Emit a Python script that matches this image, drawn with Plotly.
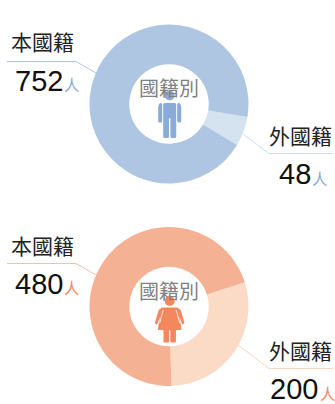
import plotly.graph_objects as go

W, H = 335, 404
categories = ["外國籍", "本國籍"]
male_values = [48, 752]
female_values = [200, 480]
center_title = "國籍別"
unit = "人"

BLUE = ["#d5e2f0", "#afc6e2"]
BLUE_ICON = "#8aabd6"
ORANGE = ["#fbdac6", "#f5b193"]
ORANGE_ICON = "#f4875e"
CJK = "Noto Sans CJK TC, Noto Sans CJK JP, sans-serif"
NUM = "Liberation Sans, Arial, sans-serif"

def X(p): return p / W
def Y(p): return 1 - p / H

def P(pt): return f"{X(pt[0]):.5f},{Y(pt[1]):.5f}"

def path(pts):
    return "M " + " L ".join(P(p) for p in pts)

def rounded(pts, r=1.2):
    """Closed polygon with softened corners."""
    n = len(pts)
    out = []
    for i in range(n):
        a, b, c = pts[i - 1], pts[i], pts[(i + 1) % n]
        def toward(p, q):
            d = ((q[0] - p[0]) ** 2 + (q[1] - p[1]) ** 2) ** 0.5
            t = min(r, d / 2) / d if d else 0
            return (p[0] + (q[0] - p[0]) * t, p[1] + (q[1] - p[1]) * t)
        s, e = toward(b, a), toward(b, c)
        out.append(("M " if i == 0 else "L ") + P(s) + " Q " + P(b) + " " + P(e))
    return " ".join(out) + " Z"

def pie_trace(vals, cols, cx, cy, r, rot):
    return go.Pie(
        labels=categories, values=vals, hole=0.5, sort=False, direction="clockwise",
        rotation=rot, textinfo="none", showlegend=False,
        marker=dict(colors=cols, line=dict(width=0)),
        domain=dict(x=[X(cx - r), X(cx + r)], y=[Y(cy + r), Y(cy - r)]),
    )

fig = go.Figure()
fig.add_trace(pie_trace(male_values, BLUE, 169, 104, 79.5, 99.5))
fig.add_trace(pie_trace(female_values, ORANGE, 169, 306.5, 79.5, 72.3))

shapes = []
def line(pts, color, width=1):
    shapes.append(dict(type="path", xref="paper", yref="paper", path=path(pts),
                       line=dict(color=color, width=width), fillcolor="rgba(0,0,0,0)"))

line([(7, 61.5), (76, 61.5), (96, 73)], "#afc6e2")
line([(243, 134), (269, 153.5), (333, 153.5)], "#cbdcee")
line([(7, 263.5), (76, 263.5), (96, 275)], "#f8bfa4")
line([(238, 345), (269, 368.5), (333, 368.5)], "#fbd5bf")

def circle(cx, cy, r, color):
    shapes.append(dict(type="circle", xref="paper", yref="paper",
                       x0=X(cx - r), x1=X(cx + r), y0=Y(cy + r), y1=Y(cy - r),
                       fillcolor=color, line=dict(width=0)))

def poly(pts, color, r=1.2):
    shapes.append(dict(type="path", xref="paper", yref="paper", path=rounded(pts, r),
                       fillcolor=color, line=dict(width=0)))

# male icon: head, torso + legs, two separate arms
cx = 169.7
circle(cx, 95.5, 5, BLUE_ICON)
poly([(cx - 6.5, 103), (cx + 6.5, 103), (cx + 6.5, 138), (cx + 0.7, 138), (cx + 0.7, 118),
      (cx - 0.7, 118), (cx - 0.7, 138), (cx - 6.5, 138)], BLUE_ICON, 1.5)
poly([(cx - 7.5, 103), (cx - 7.5, 122.5), (cx - 11.5, 122.5), (cx - 11.5, 106), (cx - 10, 103)],
     BLUE_ICON, 1.5)
poly([(cx + 7.5, 103), (cx + 7.5, 122.5), (cx + 11.5, 122.5), (cx + 11.5, 106), (cx + 10, 103)],
     BLUE_ICON, 1.5)

# female icon
circle(cx, 301, 5, ORANGE_ICON)
poly([(cx - 8, 307.5), (cx + 8, 307.5), (cx + 11, 310), (cx + 15, 323.5), (cx + 12.5, 324.5),
      (cx + 9.5, 316), (cx + 12, 330), (cx + 6.2, 330), (cx + 6.2, 342.5), (cx + 0.6, 342.5),
      (cx + 0.6, 330), (cx - 0.6, 330), (cx - 0.6, 342.5), (cx - 6.2, 342.5), (cx - 6.2, 330),
      (cx - 12, 330), (cx - 9.5, 316), (cx - 12.5, 324.5), (cx - 15, 323.5), (cx - 11, 310)],
     ORANGE_ICON, 1)
line([(cx - 6.5, 310), (cx - 10, 323)], "white", 0.8)
line([(cx + 6.5, 310), (cx + 10, 323)], "white", 0.8)

anns = []
def text(s, x, y, size, color, font, anchor="left"):
    anns.append(dict(text=s, x=X(x), y=Y(y), xref="paper", yref="paper", xanchor=anchor,
                     yanchor="middle", showarrow=False, align=anchor,
                     font=dict(size=size, color=color, family=font),
                     borderpad=0, borderwidth=0))

text(categories[1], 42.5, 41.5, 21, "#222222", CJK, "center")
text(categories[0], 300, 135, 21, "#222222", CJK, "center")
text(categories[1], 42.5, 245, 21, "#222222", CJK, "center")
text(categories[0], 300, 350, 21, "#222222", CJK, "center")

text(center_title, 169, 87.5, 20, "#808080", CJK, "center")
text(center_title, 169, 290.5, 20, "#808080", CJK, "center")

text(str(male_values[1]), 62.5, 81, 29, "#111111", NUM, "right")
text(unit, 72, 84, 15.5, BLUE_ICON, CJK, "center")
text(str(male_values[0]), 310.5, 174, 29, "#111111", NUM, "right")
text(unit, 319.5, 177.5, 15.5, BLUE_ICON, CJK, "center")
text(str(female_values[1]), 62.5, 284, 29, "#111111", NUM, "right")
text(unit, 72, 287, 15.5, ORANGE_ICON, CJK, "center")
text(str(female_values[0]), 317.5, 389, 29, "#111111", NUM, "right")
text(unit, 328, 393, 15.5, ORANGE_ICON, CJK, "center")

fig.update_layout(width=W, height=H, margin=dict(l=0, r=0, t=0, b=0),
                  paper_bgcolor="white", plot_bgcolor="white",
                  shapes=shapes, annotations=anns)
fig.write_html("out.html", config=dict(displayModeBar=False),
               post_script="document.body.style.margin='0';document.documentElement.style.overflow='hidden';")
